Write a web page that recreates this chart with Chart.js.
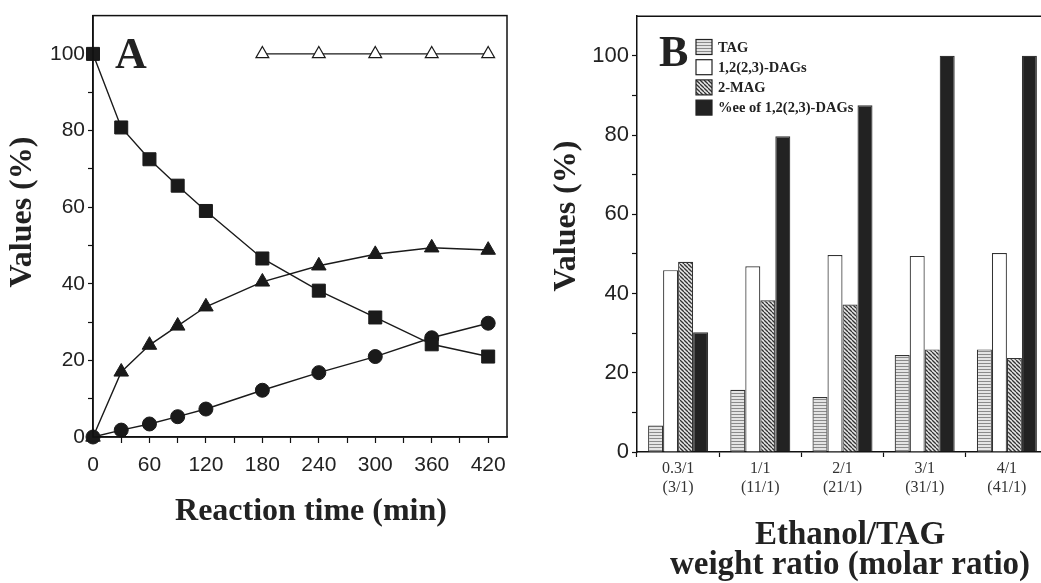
<!DOCTYPE html>
<html>
<head>
<meta charset="utf-8">
<title>Ethanolysis of TAG</title>
<script src="https://cdn.jsdelivr.net/npm/chart.js@4.4.1/dist/chart.umd.min.js"></script>
<style>
  html, body { margin: 0; padding: 0; background: #fff; overflow: hidden; }
  #wrap { position: relative; width: 1041px; height: 583px; overflow: hidden; }
  #chartA { position: absolute; left: 0; top: 0; }
  #chartB { position: absolute; left: 520px; top: 0; }
</style>
</head>
<body>
<div id="wrap">
  <canvas id="chartA" width="520" height="583"></canvas>
  <canvas id="chartB" width="540" height="583"></canvas>
</div>
<script>
// panel A : time course
var times = [0, 30, 60, 90, 120, 180, 240, 300, 360, 420];
var tagA = [100, 80.8, 72.5, 65.6, 59, 46.6, 38.2, 31.2, 24.2, 21];
var dagA = [0, 17, 24, 29, 34, 40.5, 44.7, 47.7, 49.4, 48.8];
var magA = [0, 1.8, 3.4, 5.3, 7.3, 12.2, 16.8, 21, 25.9, 29.7];
var eeTimes = [180, 240, 300, 360, 420];
var eeA = [100, 100, 100, 100, 100];

// panel B : ethanol/TAG ratio
var ratioLabels = [['0.3/1', '(3/1)'], ['1/1', '(11/1)'], ['2/1', '(21/1)'], ['3/1', '(31/1)'], ['4/1', '(41/1)']];
var tagB = [6.7, 15.7, 13.9, 24.5, 25.9];
var dagB = [45.9, 46.9, 49.7, 49.5, 50.2];
var magB = [48, 38.3, 37.2, 25.9, 23.7];
var eeB = [30.2, 79.7, 87.5, 100, 100];

var seriesNames = ['TAG', '1,2(2,3)-DAGs', '2-MAG', '%ee of 1,2(2,3)-DAGs'];

Chart.defaults.font.family = '"Liberation Sans", Arial, sans-serif';
Chart.defaults.color = '#222';

var serif = '"Liberation Serif", "Times New Roman", serif';

function xy(xs, ys) {
  return xs.map(function(x, i) { return { x: x, y: ys[i] }; });
}

// fill patterns for the bars
function stripePattern() {
  var c = document.createElement('canvas');
  c.width = 4; c.height = 3;
  var g = c.getContext('2d');
  g.fillStyle = '#e4e4e4';
  g.fillRect(0, 0, 4, 3);
  g.fillStyle = '#8a8a8a';
  g.fillRect(0, 0, 4, 1);
  return g.createPattern(c, 'repeat');
}
function hatchPattern() {
  var c = document.createElement('canvas');
  c.width = 4; c.height = 4;
  var g = c.getContext('2d');
  g.fillStyle = '#e8e8e8';
  g.fillRect(0, 0, 4, 4);
  g.strokeStyle = '#333';
  g.lineWidth = 1.3;
  for (var k = -4; k <= 4; k += 4) {
    g.beginPath();
    g.moveTo(k, 0);
    g.lineTo(k + 4, 4);
    g.stroke();
  }
  return g.createPattern(c, 'repeat');
}

// axis titles, drawn by hand so they sit where the printed figure has them
function axisText(ctx, lines, x, y, rotate) {
  ctx.save();
  ctx.fillStyle = '#222';
  ctx.textAlign = 'center';
  ctx.textBaseline = 'middle';
  ctx.translate(x, y);
  if (rotate) ctx.rotate(-Math.PI / 2);
  lines.forEach(function(t, i) { ctx.fillText(t, 0, i * 30); });
  ctx.restore();
}

var panelA = {
  id: 'panelA',
  afterDraw: function(chart) {
    var a = chart.chartArea, ctx = chart.ctx;
    ctx.save();
    ctx.strokeStyle = '#111';
    ctx.lineWidth = 1.5;
    ctx.strokeRect(a.left, a.top, a.right - a.left, a.bottom - a.top);
    ctx.fillStyle = '#222';
    ctx.font = 'bold 44px ' + serif;
    ctx.textBaseline = 'alphabetic';
    ctx.fillText('A', 115, 68);
    ctx.font = 'bold 32px ' + serif;
    axisText(ctx, ['Values (%)'], 23, 212, true);
    axisText(ctx, ['Reaction time (min)'], 311, 512, false);
    ctx.restore();
  }
};

var panelB = {
  id: 'panelB',
  afterDraw: function(chart) {
    var a = chart.chartArea, ctx = chart.ctx;
    ctx.save();
    ctx.strokeStyle = '#111';
    ctx.lineWidth = 1.5;
    ctx.beginPath();
    ctx.moveTo(a.left, a.top);
    ctx.lineTo(a.right, a.top);
    ctx.lineTo(a.right, a.bottom);
    ctx.stroke();
    ctx.fillStyle = '#222';
    ctx.font = 'bold 44px ' + serif;
    ctx.fillText('B', 139, 66);
    ctx.font = 'bold 32px ' + serif;
    axisText(ctx, ['Values (%)'], 47, 216, true);
    ctx.font = 'bold 33px ' + serif;
    axisText(ctx, ['Ethanol/TAG', 'weight ratio (molar ratio)'], 330, 535, false);
    // legend
    var y0 = 47;
    ctx.font = 'bold 14.5px ' + serif;
    ctx.textBaseline = 'middle';
    ctx.textAlign = 'left';
    chart.data.datasets.forEach(function(ds, i) {
      var y = y0 + i * 20.2;
      ctx.fillStyle = ds.backgroundColor;
      ctx.fillRect(176, y - 7.5, 16, 15);
      ctx.strokeStyle = '#222';
      ctx.lineWidth = 1.2;
      ctx.strokeRect(176, y - 7.5, 16, 15);
      ctx.fillStyle = '#222';
      ctx.fillText(ds.label, 198, y + 1);
    });
    ctx.restore();
  }
};

function tenTicks(v, step) {
  return v % step === 0 ? v : '';
}

new Chart(document.getElementById('chartA'), {
  type: 'line',
  data: {
    datasets: [{
      label: seriesNames[0],
      data: xy(times, tagA),
      pointStyle: 'rect', pointRadius: 9.2,
      backgroundColor: '#1a1a1a', borderColor: '#1a1a1a'
    }, {
      label: seriesNames[1],
      data: xy(times, dagA),
      pointStyle: 'triangle', pointRadius: 8.4,
      backgroundColor: '#1a1a1a', borderColor: '#1a1a1a'
    }, {
      label: seriesNames[2],
      data: xy(times, magA),
      pointStyle: 'circle', pointRadius: 7,
      backgroundColor: '#1a1a1a', borderColor: '#1a1a1a'
    }, {
      label: seriesNames[3],
      data: xy(eeTimes, eeA),
      pointStyle: 'triangle', pointRadius: 7.4,
      pointBackgroundColor: '#fff', backgroundColor: '#fff', borderColor: '#1a1a1a',
      pointBorderWidth: 1.2
    }]
  },
  options: {
    responsive: false,
    animation: false,
    events: [],
    clip: false,
    layout: { padding: { top: 14, right: 13, left: 0, bottom: 0 } },
    elements: { line: { borderWidth: 1.4, tension: 0 }, point: { borderWidth: 1 } },
    plugins: { legend: { display: false }, tooltip: { enabled: false } },
    scales: {
      x: {
        type: 'linear', min: 0, max: 440,
        afterBuildTicks: function(s) { s.ticks = s.ticks.filter(function(t) { return t.value <= 420; }); },
        afterFit: function(s) { s.height = 146; },
        ticks: { stepSize: 30, includeBounds: false, autoSkip: false, maxRotation: 0, padding: 10, font: { size: 21 },
                 callback: function(v) { return tenTicks(v, 60); } },
        grid: { drawOnChartArea: false, tickLength: 6, color: '#111', tickWidth: 1.2 },
        border: { color: '#111', width: 1.5 }
      },
      y: {
        min: 0, max: 110,
        afterBuildTicks: function(s) { s.ticks = s.ticks.filter(function(t) { return t.value <= 100; }); },
        afterFit: function(s) { s.width = 93; },
        ticks: { stepSize: 10, includeBounds: false, autoSkip: false, padding: 3, font: { size: 21 },
                 callback: function(v) { return tenTicks(v, 20); } },
        grid: { drawOnChartArea: false, tickLength: 5, color: '#111', tickWidth: 1.2 },
        border: { color: '#111', width: 1.5 }
      }
    }
  },
  plugins: [panelA]
});

new Chart(document.getElementById('chartB'), {
  type: 'bar',
  data: {
    labels: ratioLabels,
    datasets: [
      { label: seriesNames[0], data: tagB, backgroundColor: stripePattern() },
      { label: seriesNames[1], data: dagB, backgroundColor: '#ffffff' },
      { label: seriesNames[2], data: magB, backgroundColor: hatchPattern() },
      { label: seriesNames[3], data: eeB, backgroundColor: '#222222' }
    ]
  },
  options: {
    responsive: false,
    animation: false,
    events: [],
    layout: { padding: { top: 15, right: 12, left: 0, bottom: 0 } },
    datasets: { bar: { categoryPercentage: 0.73, barPercentage: 1.0, borderWidth: 1.2, borderColor: '#333' } },
    plugins: { legend: { display: false }, tooltip: { enabled: false } },
    scales: {
      x: {
        afterFit: function(s) { s.height = 131; },
        ticks: { padding: 3, color: '#333', font: { family: serif, size: 16, lineHeight: 1.15 } },
        grid: { drawOnChartArea: false, offset: true, tickLength: 5, color: '#111', tickWidth: 1.2 },
        border: { color: '#111', width: 1.5 }
      },
      y: {
        min: 0, max: 110,
        afterBuildTicks: function(s) { s.ticks = s.ticks.filter(function(t) { return t.value <= 100; }); },
        afterFit: function(s) { s.width = 117; },
        ticks: { stepSize: 10, includeBounds: false, autoSkip: false, padding: 3, font: { size: 22 },
                 callback: function(v) { return tenTicks(v, 20); } },
        grid: { drawOnChartArea: false, tickLength: 5, color: '#111', tickWidth: 1.2 },
        border: { color: '#111', width: 1.5 }
      }
    }
  },
  plugins: [panelB]
});
</script>
</body>
</html>
